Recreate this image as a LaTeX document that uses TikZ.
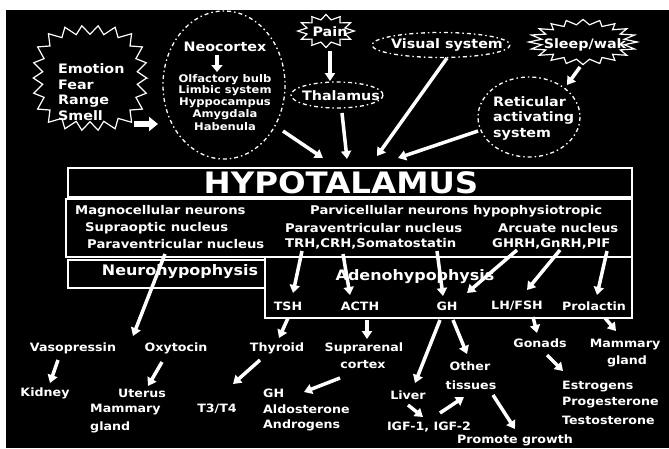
\documentclass[tikz,border=0pt]{standalone}
\usepackage{fontspec}
\setmainfont{DejaVu Sans}[FakeStretch=1.1]
\usetikzlibrary{arrows.meta}
\newcommand\fBig{\fontsize{13}{15}\selectfont\bfseries}
\newcommand\fList{\fontsize{10.5}{12}\selectfont\bfseries}
\newcommand\fNuc{\fontsize{12}{14}\selectfont\bfseries}
\newcommand\fHyp{\fontsize{29.5}{32}\selectfont\bfseries}
\newcommand\fSub{\fontsize{14.5}{17}\selectfont\bfseries}
\newcommand\fLbl{\fontsize{11.5}{14}\selectfont\bfseries}
% connector between two named coordinates
\newcommand\conn[4]{\coordinate (#1s) at (#2); \coordinate (#1e) at (#3); \draw[#4] (#1s) -- (#1e);}
% elliptic starburst outline
\newcommand\burst[6]{\draw[starline] plot[sharp plot, samples=#5*2+1, domain=0:360, variable=\t]
  ({#1+#3*(1+#6*cos(#5*\t))*cos(\t)}, {#2+#4*(1+#6*cos(#5*\t))*sin(\t)}) -- cycle;}
% squarish starburst outline (superellipse, p=3)
\newcommand\sqburst[6]{\draw[starline] plot[sharp plot, samples=#5*2+1, domain=0:360, variable=\t]
  ({#1+#3*pow(abs(cos(\t))^3+abs(sin(\t))^3,-1/3)*(1+#6*cos(#5*\t))*cos(\t)},
   {#2+#4*pow(abs(cos(\t))^3+abs(sin(\t))^3,-1/3)*(1+#6*cos(#5*\t))*sin(\t)}) -- cycle;}
\begin{document}
\begin{tikzpicture}[x=1pt,y=-1pt,
  every node/.style={text=white, inner sep=0pt},
  starline/.style={draw=white, line width=1.2pt, line join=miter},
  dashring/.style={draw=white, line width=1.3pt, dash pattern=on 4pt off 3pt on 1.5pt off 3pt},
  boxline/.style={draw=white, line width=1.6pt},
  arr/.style={draw=white, line width=3.5pt, -{Triangle[width=10pt,length=8pt]}},
  bigarr/.style={draw=white, line width=6pt, -{Triangle[width=14pt,length=9pt]}},
  midarr/.style={draw=white, line width=4.5pt, -{Triangle[width=11pt,length=7pt]}},
  lab/.style={font=\fBig},
  lst/.style={font=\fList},
  nuc/.style={font=\fNuc, anchor=west},
  lbl/.style={font=\fLbl},
]
\fill[white] (0,0) rectangle (669,448);
\fill[black] (6,10) rectangle (669,448);
\useasboundingbox (0,0) rectangle (669,448);

% ---------- top sources ----------
\sqburst{90}{78}{52}{48}{22}{0.09}
\node[lab, anchor=west] (emo) at (58,69) {Emotion};
\node[lab, anchor=west] (fear) at (58,85) {Fear};
\node[lab, anchor=west] (range) at (58,101) {Range};
\node[lab, anchor=west] (smell) at (58,116) {Smell};

\draw[dashring] (224,85) ellipse [x radius=61, y radius=74];
\node[lab] (neo) at (225,47) {Neocortex};
\node[lst] (olf) at (225,80) {Olfactory bulb};
\node[lst] (limb) at (225,91) {Limbic system};
\node[lst] (hipp) at (225,103) {Hyppocampus};
\node[lst] (amy) at (225,115) {Amygdala};
\node[lst] (hab) at (225,127) {Habenula};

\burst{326}{31}{24}{14}{12}{0.18}
\node[lab] (pain) at (330,32) {Pain};
\draw[dashring] (337,95) ellipse [x radius=46, y radius=13];
\node[lab] (thal) at (341,96) {Thalamus};
\draw[dashring] (441,45) ellipse [x radius=69, y radius=12.5];
\node[lab] (vis) at (447,45) {Visual system};
\burst{583}{42}{48}{20}{20}{0.13}
\node[lab] (sleep) at (585,45) {Sleep/wak};
\draw[dashring] (529,117) ellipse [x radius=51, y radius=40];
\node[lab, anchor=west] (ret1) at (493,102) {Reticular};
\node[lab, anchor=west] (ret2) at (493,118) {activating};
\node[lab, anchor=west] (ret3) at (493,134) {system};

\conn{a1}{134,124}{158,124}{bigarr}
\conn{a2}{217,55}{217,72}{midarr}
\conn{a3}{330,51}{330,81}{arr}
\conn{a4}{342,113}{347,159}{arr}
\conn{a5}{447,58}{377,156}{arr}
\conn{a6}{283,131}{323,158}{arr}
\conn{a7}{478,131}{398,158}{arr}
\conn{a8}{580,67}{567,85}{arr}

% ---------- hypothalamus boxes ----------
\draw[boxline] (68,168) rectangle (632,197);
\node[font=\fHyp] (hypo) at (341,182.5) {HYPOTALAMUS};
\draw[boxline] (66,199) rectangle (632,257);
\node[nuc] (magno) at (75,211) {Magnocellular neurons};
\node[nuc] (supra) at (85,228) {Supraoptic nucleus};
\node[nuc] (pvnl) at (87,244) {Paraventricular nucleus};
\node[nuc] (parvo) at (310,211) {Parvicellular neurons hypophysiotropic};
\node[nuc] (pvnr) at (285,228) {Paraventricular nucleus};
\node[nuc] (arc) at (498,228) {Arcuate nucleus};
\node[nuc] (trh) at (285,244) {TRH,CRH,Somatostatin};
\node[nuc] (ghrh) at (492,244) {GHRH,GnRH,PIF};
\draw[boxline] (68,260) rectangle (265,288);
\node[font=\fSub] (neuro) at (180,272) {Neurohypophysis};
\draw[boxline] (265,257) rectangle (632,318);
\node[font=\fSub] (adeno) at (415,277) {Adenohypophysis};
\node[lbl] (tsh) at (288,306) {TSH};
\node[lbl] (acth) at (360,306) {ACTH};
\node[lbl] (gh) at (447,306) {GH};
\node[lbl] (lh) at (517,306) {LH/FSH};
\node[lbl] (prl) at (594,306) {Prolactin};

\conn{b1}{165,254}{133,336}{arr}
\conn{b2}{302,251}{293,293}{arr}
\conn{b3}{343,254}{350,295}{arr}
\conn{b4}{437,251}{443,296}{arr}
\conn{b5}{517,250}{467,293}{arr}
\conn{b6}{560,250}{527,290}{arr}
\conn{b7}{607,251}{597,295}{arr}

% ---------- targets ----------
\node[lbl] (vaso) at (73,348) {Vasopressin};
\node[lbl] (oxy) at (176,348) {Oxytocin};
\node[lbl] (kid) at (45,393) {Kidney};
\node[lbl] (ut) at (142,393) {Uterus};
\node[lbl, anchor=west] (mam1) at (90,410) {Mammary};
\node[lbl, anchor=west] (gl1) at (90,427) {gland};
\node[lbl] (thy) at (277,348) {Thyroid};
\node[lbl] (t3) at (217,409) {T3/T4};
\node[lbl, anchor=west] (gh2) at (263,393) {GH};
\node[lbl, anchor=west] (aldo) at (263,409) {Aldosterone};
\node[lbl, anchor=west] (andro) at (263,425) {Androgens};
\node[lbl] (supr) at (364,348) {Suprarenal};
\node[lbl] (cort) at (363,365) {cortex};
\node[lbl] (oth) at (470,366) {Other};
\node[lbl] (tis) at (471,385) {tissues};
\node[lbl] (liv) at (408,395) {Liver};
\node[lbl] (igf) at (429,427) {IGF-1, IGF-2};
\node[lbl] (prom) at (515,440) {Promote growth};
\node[lbl] (gon) at (540,343) {Gonads};
\node[lbl] (mam2) at (625,345) {Mammary};
\node[lbl] (gl2) at (627,361) {gland};
\node[lbl, anchor=west] (estr) at (562,387) {Estrogens};
\node[lbl, anchor=west] (prog) at (562,403) {Progesterone};
\node[lbl, anchor=west] (test) at (562,420) {Testosterone};

\conn{c1}{58,360}{50,383}{arr}
\conn{c2}{162,362}{148,386}{arr}
\conn{c3}{288,318}{279,338}{arr}
\conn{c4}{260,360}{233,384}{arr}
\conn{c5}{367,320}{367,339}{arr}
\conn{c6}{340,378}{304,392}{arr}
\conn{c7}{440,320}{415,383}{arr}
\conn{c8}{453,320}{467,354}{arr}
\conn{c9}{408,405}{423,417}{arr}
\conn{c10}{440,413}{464,397}{arr}
\conn{c11}{493,395}{515,429}{arr}
\conn{c12}{533,317}{537,333}{arr}
\conn{c13}{547,355}{563,371}{arr}
\conn{c14}{605,318}{616,331}{arr}
\end{tikzpicture}
\end{document}
